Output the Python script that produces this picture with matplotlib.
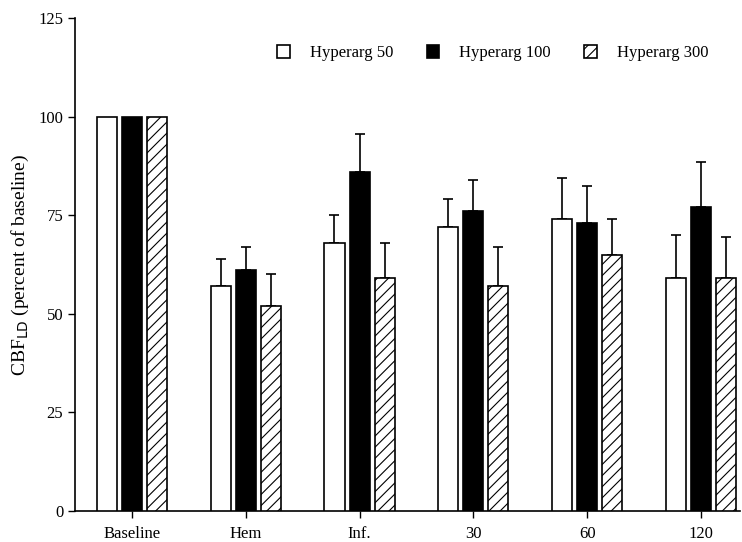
import matplotlib
matplotlib.use("Agg")
import matplotlib.pyplot as plt
import numpy as np

plt.rcParams['font.family'] = ['Liberation Serif', 'DejaVu Serif']
plt.rcParams['hatch.linewidth'] = 0.8

categories = ["Baseline", "Hem", "Inf.", "30", "60", "120"]
series_names = ["Hyperarg 50", "Hyperarg 100", "Hyperarg 300"]
hyp50 = [100, 57, 68, 72, 74, 59]
hyp100 = [100, 61, 86, 76, 73, 77]
hyp300 = [100, 52, 59, 57, 65, 59]
hyp50_top = [100, 64, 75, 79, 84.5, 70]
hyp100_top = [100, 67, 95.5, 84, 82.5, 88.5]
hyp300_top = [100, 60, 68, 67, 74, 69.5]
yticks = [0, 25, 50, 75, 100, 125]

fig = plt.figure(figsize=(7.42, 5.42), dpi=100)
ax = fig.add_axes([0.101, 0.057, 0.896, 0.910])

x = np.arange(len(categories))
w = 0.176
off = 0.22
styles = [dict(color="white", hatch=None), dict(color="black", hatch=None), dict(color="white", hatch="///")]
vals = [hyp50, hyp100, hyp300]
tops = [hyp50_top, hyp100_top, hyp300_top]
handles = []
for i, (v, t, st) in enumerate(zip(vals, tops, styles)):
    v = np.array(v, float)
    t = np.array(t, float)
    err = t - v
    pos = x + (i - 1) * off
    b = ax.bar(pos, v, width=w, facecolor=st["color"], edgecolor="black",
               linewidth=1.2, hatch=st["hatch"], label=series_names[i], zorder=3)
    handles.append(b)
    mask = err > 0
    ax.errorbar(pos[mask], v[mask], yerr=[np.zeros(mask.sum()), err[mask]],
                fmt="none", ecolor="black", elinewidth=1.2, capsize=3.5, capthick=1.2, zorder=2)

ax.set_xlim(-0.5, 5.34)
ax.set_ylim(0, 125)
ax.set_yticks(yticks)
ax.set_yticklabels([str(t) for t in yticks], fontsize=12)
ax.set_xticks(x)
ax.set_xticklabels(categories, fontsize=12)
ax.tick_params(direction="out", length=5, width=1)
ax.tick_params(axis="x", pad=6)
ax.spines["top"].set_visible(False)
ax.spines["right"].set_visible(False)
ax.spines["left"].set_linewidth(1.2)
ax.spines["bottom"].set_linewidth(1.2)
ax.set_ylabel(r"CBF$_{\mathrm{LD}}$ (percent of baseline)", fontsize=14, labelpad=5)

ax.legend(handles=handles, labels=series_names, loc="upper right", ncol=3, frameon=False,
          fontsize=12, handlelength=0.75, handleheight=0.75, columnspacing=2.0,
          handletextpad=1.2, bbox_to_anchor=(0.975, 0.975))

fig.savefig("out.png", dpi=100)
